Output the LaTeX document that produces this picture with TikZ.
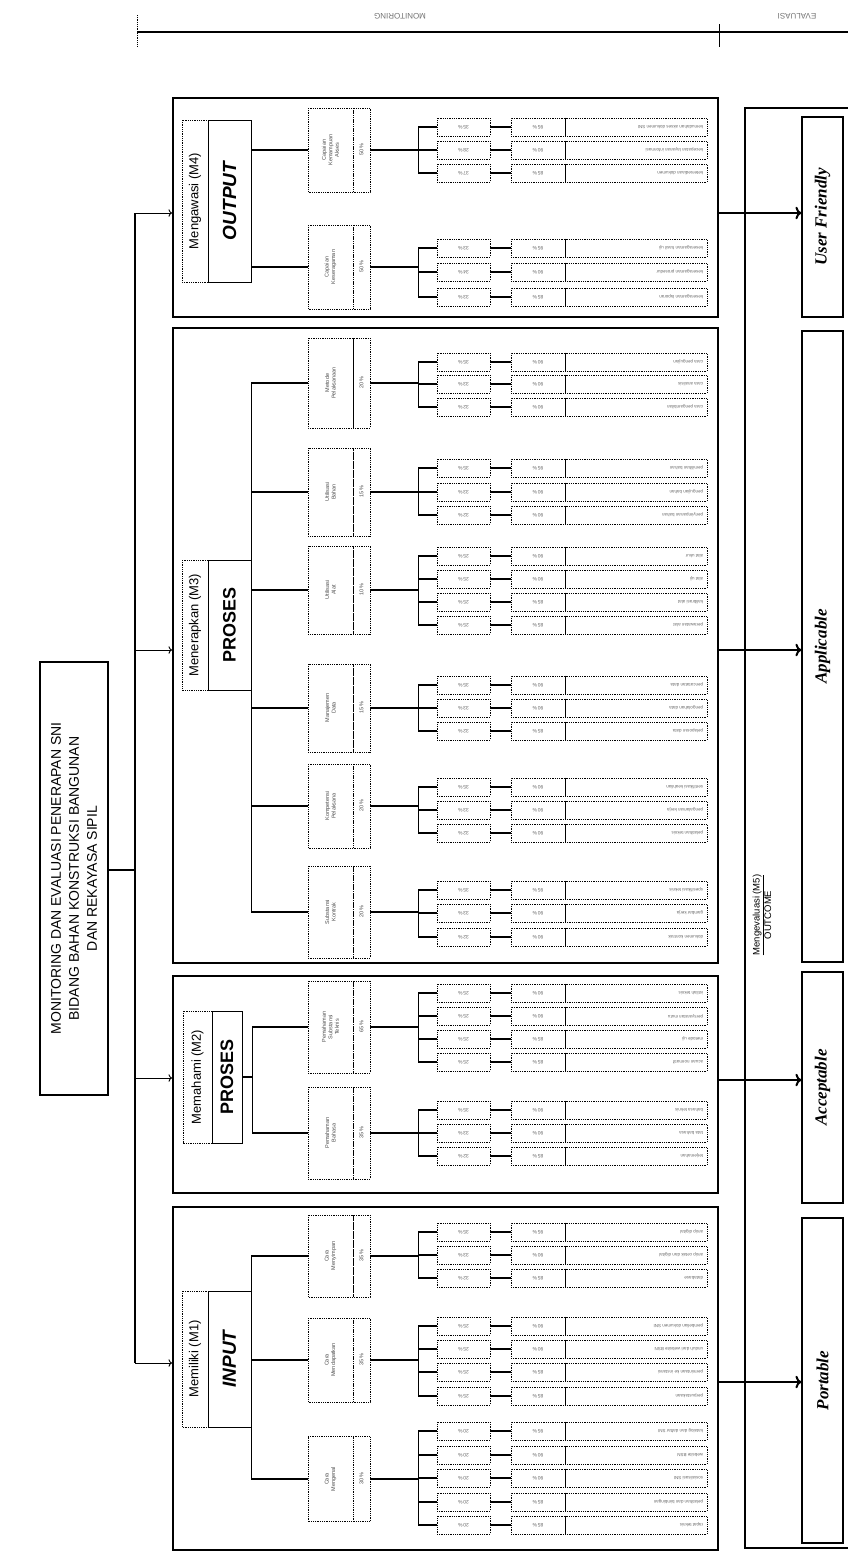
\documentclass[tikz,border=0pt]{standalone}
\usepackage{fontspec}
\setmainfont{Liberation Serif}
\setsansfont{Liberation Sans}
\usetikzlibrary{arrows.meta}

\newcommand{\flip}[1]{\rotatebox[origin=c]{180}{#1}}

\tikzset{
  frame/.style={draw, line width=1.8pt, inner sep=0pt},
  tag/.style={draw, densely dotted, thick, rotate=90, inner sep=0pt, font=\sffamily\fontsize{13}{14}\selectfont},
  mainbox/.style={draw, line width=0.9pt, rotate=90, inner sep=0pt, font=\sffamily\bfseries\itshape\fontsize{19}{20}\selectfont},
  subbox/.style={draw, densely dotted, thick, rotate=90, inner sep=0pt, minimum height=45pt, align=center, text=black!70, font=\sffamily\fontsize{5.5}{6.5}\selectfont},
  subpct/.style={draw, densely dotted, thick, rotate=90, inner sep=0pt, minimum height=17pt, text=black!70, font=\sffamily\fontsize{5.5}{6.5}\selectfont},
  pcta/.style={draw, densely dotted, thick, minimum width=53pt, minimum height=18pt, inner sep=0pt, text=black!60, font=\sffamily\fontsize{5}{6}\selectfont},
  pctb/.style={pcta, minimum width=54pt},
  leaf/.style={draw, densely dotted, thick, minimum width=142pt, minimum height=18pt, inner sep=0pt, text=black!60, font=\sffamily\fontsize{4.5}{5}\selectfont},
  outbox/.style={draw, line width=1.2pt, rotate=90, inner sep=0pt, minimum height=41pt, font=\bfseries\itshape\fontsize{17}{18}\selectfont},
  link/.style={line width=1.2pt},
}

% criterion box with its weight
\newcommand{\critbox}[5]{%
  \node[subbox, minimum width=#3pt] (#1) at (330.5,#2) {#4};
  \node[subpct, minimum width=#3pt] (#1p) at (361.5,#2) {#5};
}

% indicators of one criterion
\newcommand{\leafgroup}[2]{%
  \draw[link] (#1p.south) -- ++(48,0) coordinate (#1j);
  \foreach \ry/\pa/\pb/\tx [count=\k] in {#2} {
    \node[pcta] (#1a\k) at (463.5,\ry) {\flip{\pa}};
    \node[pctb] (#1b\k) at (538,\ry) {\flip{\pb}};
    \node[leaf] (#1c\k) at (636,\ry) {\flip{\makebox[134pt][l]{\tx}}};
    \draw[link] (#1j) -- (#1j |- #1a\k.west) -- (#1a\k.west);
    \draw[link] (#1a\k.east) -- (#1b\k.west);
    \draw[line width=1.5pt] (#1b\k.north east) -- (#1b\k.south east);
  }
}

\begin{document}
\begin{tikzpicture}[x=1pt, y=-1pt]
  \useasboundingbox (0,0) rectangle (848,1553);

  % header bar
  \coordinate (hl) at (137,32);
  \coordinate (hr) at (848,32);
  \draw[line width=1.3pt] (hl) -- (hr);
  \draw[densely dotted, thick] (137,15) -- (137,47);
  \draw (719,24) -- (719,47);
  \node[text=black!55, font=\sffamily\fontsize{8}{9}\selectfont] (mon) at (400,16) {\flip{MONITORING}};
  \node[text=black!55, font=\sffamily\fontsize{8}{9}\selectfont] (eva) at (797,16) {\flip{EVALUASI}};

  % frames
  \node[frame, minimum width=545pt, minimum height=219pt] (f4) at (445.5,207.5) {};
  \node[frame, minimum width=545pt, minimum height=635pt] (f3) at (445.5,645.5) {};
  \node[frame, minimum width=545pt, minimum height=217pt] (f2) at (445.5,1084.5) {};
  \node[frame, minimum width=545pt, minimum height=343pt] (f1) at (445.5,1378.5) {};
  \node[frame, minimum width=110pt, minimum height=1440pt] (ev) at (800,828) {};

  % outcome
  \node[outbox, minimum width=200pt] (uf) at (822.5,217) {User Friendly};
  \node[outbox, minimum width=631pt] (app) at (822.5,646.5) {Applicable};
  \node[outbox, minimum width=231pt] (acc) at (822.5,1087.5) {Acceptable};
  \node[outbox, minimum width=325pt] (port) at (822.5,1380.5) {Portable};
  \node[rotate=90, align=center, inner sep=1pt, font=\sffamily\fontsize{9.5}{10.5}\selectfont] (m5) at (762,915) {\underline{Mengevaluasi (M5)}\\OUTCOME};

  % title
  \node[draw, line width=2.5pt, rotate=90, minimum width=433pt, minimum height=68pt, align=center,
        font=\sffamily\fontsize{14}{18}\selectfont] (title) at (74,878.5)
        {MONITORING DAN EVALUASI PENERAPAN SNI\\BIDANG BAHAN KONSTRUKSI BANGUNAN\\DAN REKAYASA SIPIL};

  % trunk
  \coordinate (a4) at (135,213);
  \coordinate (a3) at (135,650);
  \coordinate (at) at (135,870);
  \coordinate (a2) at (135,1078);
  \coordinate (a1) at (135,1363);
  \draw[link] (title.south |- at) -- (at);
  \draw[link] (a4) -- (a1);
  \foreach \a/\f in {a4/f4, a3/f3, a2/f2, a1/f1}
    \draw[line width=0.9pt, ->] (\a) -- (\a -| \f.west);

  % arrows to outcome
  \coordinate (o4) at (717,213);
  \coordinate (o3) at (717,650);
  \coordinate (o2) at (717,1080);
  \coordinate (o1) at (717,1382);
  \foreach \o/\f/\b in {o4/f4/uf, o3/f3/app, o2/f2/acc, o1/f1/port}
    \draw[line width=2pt, ->] (\f.east |- \o) -- (\o -| \b.north);

  % M4
  \node[tag, minimum width=162pt, minimum height=26pt] (t4) at (195,201) {Mengawasi (M4)};
  \node[mainbox, minimum width=162pt, minimum height=43pt] (b4) at (229.5,201) {OUTPUT};
  \critbox{m4a}{150}{84}{Capaian\\Kemampuan\\Akses}{50\,\%}
  \critbox{m4b}{267}{84}{Capaian\\Keseragaman}{50\,\%}
  \draw[link] (b4.south |- m4a.north) -- (b4.south |- m4b.north);
  \foreach \s in {m4a, m4b}
    \draw[link] (b4.south |- \s.north) -- (\s.north);
  \leafgroup{m4a}{127/35\,\%/95\,\%/kemudahan akses dokumen SNI, 150/28\,\%/90\,\%/kecepatan layanan informasi, 173/37\,\%/85\,\%/ketersediaan dokumen}
  \leafgroup{m4b}{248/33\,\%/95\,\%/keseragaman hasil uji, 272/34\,\%/90\,\%/keseragaman prosedur, 297/33\,\%/85\,\%/keseragaman laporan}

  % M3
  \node[tag, minimum width=130pt, minimum height=26pt] (t3) at (195,625) {Menerapkan (M3)};
  \node[mainbox, minimum width=130pt, minimum height=43pt, font=\sffamily\bfseries\fontsize{18}{20}\selectfont] (b3) at (229.5,625) {PROSES};
  \critbox{m3a}{383}{90}{Metode\\Pelaksanaan}{20\,\%}
  \critbox{m3b}{492}{88}{Utilisasi\\Bahan}{15\,\%}
  \critbox{m3c}{590}{88}{Utilisasi\\Alat}{10\,\%}
  \critbox{m3d}{708}{88}{Manajemen\\Data}{15\,\%}
  \critbox{m3e}{806}{84}{Kompetensi\\Pelaksana}{20\,\%}
  \critbox{m3f}{912}{92}{Substansi\\Kontrak}{20\,\%}
  \draw[link] (b3.south |- m3a.north) -- (b3.south |- m3f.north);
  \foreach \s in {m3a, m3b, m3c, m3d, m3e, m3f}
    \draw[link] (b3.south |- \s.north) -- (\s.north);
  \leafgroup{m3a}{362/35\,\%/90\,\%/cara pengujian, 384/33\,\%/90\,\%/cara analisis, 407/32\,\%/90\,\%/cara pengambilan}
  \leafgroup{m3b}{468/35\,\%/95\,\%/pemilihan bahan, 492/33\,\%/90\,\%/pengujian bahan, 515/32\,\%/90\,\%/penyimpanan bahan}
  \leafgroup{m3c}{556/25\,\%/90\,\%/alat ukur, 579/25\,\%/90\,\%/alat uji, 602/25\,\%/85\,\%/kalibrasi alat, 625/25\,\%/85\,\%/perawatan alat}
  \leafgroup{m3d}{685/35\,\%/90\,\%/pencatatan data, 708/33\,\%/90\,\%/pengolahan data, 731/32\,\%/85\,\%/pelaporan data}
  \leafgroup{m3e}{787/35\,\%/90\,\%/sertifikasi keahlian, 810/33\,\%/90\,\%/pengalaman kerja, 833/32\,\%/90\,\%/pelatihan teknis}
  \leafgroup{m3f}{890/35\,\%/95\,\%/spesifikasi teknis, 913/33\,\%/90\,\%/gambar kerja, 937/32\,\%/90\,\%/dokumen kontrak}

  % M2
  \node[tag, minimum width=132pt, minimum height=29pt] (t2) at (197.5,1077) {Memahami (M2)};
  \node[mainbox, minimum width=132pt, minimum height=30pt, font=\sffamily\bfseries\fontsize{18}{20}\selectfont] (b2) at (227,1077) {PROSES};
  \critbox{m2a}{1027}{92}{Pemahaman\\Substansi\\Teknis}{65\,\%}
  \critbox{m2b}{1133}{92}{Pemahaman\\Bahasa}{35\,\%}
  \draw[link] (b2.south) -- ++(10,0) coordinate (b2j);
  \draw[link] (b2j |- m2a.north) -- (b2j |- m2b.north);
  \foreach \s in {m2a, m2b}
    \draw[link] (b2j |- \s.north) -- (\s.north);
  \leafgroup{m2a}{993/25\,\%/90\,\%/istilah teknis, 1016/25\,\%/90\,\%/persyaratan mutu, 1039/25\,\%/85\,\%/metode uji, 1062/25\,\%/85\,\%/acuan normatif}
  \leafgroup{m2b}{1110/35\,\%/90\,\%/bahasa teknis, 1133/33\,\%/90\,\%/tata bahasa, 1156/32\,\%/85\,\%/terjemahan}

  % M1
  \node[tag, minimum width=136pt, minimum height=26pt] (t1) at (195,1359) {Memiliki (M1)};
  \node[mainbox, minimum width=136pt, minimum height=43pt] (b1) at (229.5,1359) {INPUT};
  \critbox{m1a}{1256}{82}{Cara\\Menyimpan}{35\,\%}
  \critbox{m1b}{1360}{84}{Cara\\Mendapatkan}{35\,\%}
  \critbox{m1c}{1479}{85}{Cara\\Mengenal}{30\,\%}
  \draw[link] (b1.south |- m1a.north) -- (b1.south |- m1c.north);
  \foreach \s in {m1a, m1b, m1c}
    \draw[link] (b1.south |- \s.north) -- (\s.north);
  \leafgroup{m1a}{1232/35\,\%/95\,\%/arsip digital, 1255/33\,\%/90\,\%/arsip cetak dan digital, 1278/32\,\%/85\,\%/database}
  \leafgroup{m1b}{1326/25\,\%/90\,\%/pembelian dokumen SNI, 1349/25\,\%/90\,\%/unduh dari website BSN, 1372/25\,\%/85\,\%/permintaan ke instansi, 1396/25\,\%/85\,\%/perpustakaan}
  \leafgroup{m1c}{1431/20\,\%/95\,\%/katalog dan daftar SNI, 1455/20\,\%/90\,\%/website BSN, 1478/20\,\%/90\,\%/sosialisasi SNI, 1502/20\,\%/85\,\%/pelatihan dan bimbingan, 1525/20\,\%/85\,\%/rapat teknis}
\end{tikzpicture}
\end{document}
